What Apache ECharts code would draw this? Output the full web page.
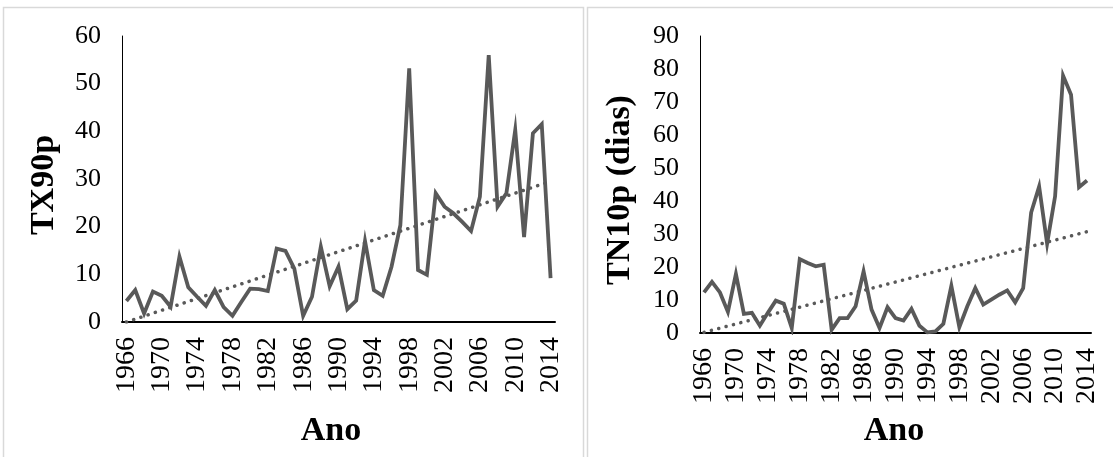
<!DOCTYPE html>
<html>
<head>
<meta charset="utf-8">
<script src="https://cdn.jsdelivr.net/npm/echarts@6/dist/echarts.min.js"></script>
<style>
html,body{margin:0;padding:0;background:#fff;}
#chart{width:1113px;height:457px;}
</style>
</head>
<body>
<div id="chart"></div>
<script>
const years = ['1966','1967','1968','1969','1970','1971','1972','1973','1974','1975','1976','1977','1978','1979','1980','1981','1982','1983','1984','1985','1986','1987','1988','1989','1990','1991','1992','1993','1994','1995','1996','1997','1998','1999','2000','2001','2002','2003','2004','2005','2006','2007','2008','2009','2010','2011','2012','2013','2014'];
const tx90p = [4.4,6.7,1.8,6.4,5.5,3.2,13.7,7.3,5.3,3.4,6.7,3.1,1.3,4.2,7.0,6.9,
  6.5,15.4,14.9,11.2,1.3,5.3,15.8,7.5,11.6,2.7,4.5,17.0,6.7,5.5,11.6,20.3,
  53.2,10.9,9.9,27.0,24.2,22.8,21.0,19.1,26.3,56.0,24.2,27.0,40.3,17.8,39.6,41.5,9.2];
const tn10p = [12.3,15.5,12.3,6.4,17.9,5.8,6.1,2.2,6.1,9.8,8.9,1.5,22.4,21.2,20.2,20.7,1.0,4.5,4.5,8.1,18.7,
  7.1,1.5,7.8,4.5,3.8,7.3,2.2,0.2,0.5,2.8,14.3,1.8,8.1,13.6,
  8.6,10.1,11.6,12.9,9.3,13.6,36.5,44.4,27.1,41.4,78.0,72.2,44.2,46.2];
const tx90pTrend = [0, 29.5];   // trend line values at first and last year
const tn10pTrend = [0.2, 30.7];
const leftTicks = {min:0, max:60, interval:10};
const rightTicks = {min:0, max:90, interval:10};
const yTitles = ['TX90p', 'TN10p (dias)'];
const xTitle = 'Ano';

const FONT = "'Liberation Serif', 'Times New Roman', serif";
const LINE = '#595959';
const TITLE_FONT = 'bold 34px ' + FONT;

function trendData(ends){
  return years.map((y,i)=> i===0 ? ends[0] : (i===years.length-1 ? ends[1] : null));
}

function xAxis(idx){
  return {
    type:'category', gridIndex:idx, data:years, boundaryGap:true,
    axisLine:{lineStyle:{color:'#000', width:2}},
    axisTick:{show:false},
    axisLabel:{interval:3, rotate:90, fontFamily:FONT, fontSize:28, color:'#000', margin:15},
    splitLine:{show:false}
  };
}
function yAxis(idx, t){
  return {
    type:'value', gridIndex:idx, min:t.min, max:t.max, interval:t.interval,
    axisLine:{show:true, lineStyle:{color:'#000', width:1}},
    axisTick:{show:false},
    axisLabel:{fontFamily:FONT, fontSize:26, color:'#000', margin:21},
    splitLine:{show:false}
  };
}
function mainSeries(idx, data){
  return {type:'line', xAxisIndex:idx, yAxisIndex:idx, data:data, symbol:'none',
    lineStyle:{color:LINE, width:3.8, join:'miter'}, z:3, animation:false};
}
function trendSeries(idx, ends){
  return {type:'line', xAxisIndex:idx, yAxisIndex:idx, data:trendData(ends), connectNulls:true, symbol:'none',
    lineStyle:{color:LINE, width:3.5, type:[0.1,7.5], cap:'round'}, z:2, animation:false};
}
function titleText(txt, x, y, rot){
  return {type:'text', x:x, y:y, rotation:rot, silent:true,
    style:{text:txt, font:TITLE_FONT, fill:'#000', align:'center', verticalAlign:'middle'}};
}

const chart = echarts.init(document.getElementById('chart'), null, {renderer:'canvas'});
chart.setOption({
  animation:false,
  backgroundColor:'#fff',
  graphic:[
    {type:'rect', shape:{x:3.5, y:7.5, width:580, height:460}, style:{fill:'none', stroke:'#d9d9d9', lineWidth:1.5}, silent:true},
    {type:'rect', shape:{x:587.5, y:7.5, width:540, height:460}, style:{fill:'none', stroke:'#d9d9d9', lineWidth:1.5}, silent:true},
    titleText(yTitles[0], 44, 185, Math.PI/2),
    titleText(yTitles[1], 620, 190, Math.PI/2),
    titleText(xTitle, 331, 431, 0),
    titleText(xTitle, 894, 431, 0)
  ],
  grid:[
    {left:122, top:36, width:433, height:286},
    {left:700, top:36, width:391, height:297}
  ],
  xAxis:[xAxis(0), xAxis(1)],
  yAxis:[yAxis(0,leftTicks), yAxis(1,rightTicks)],
  series:[
    trendSeries(0, tx90pTrend), mainSeries(0, tx90p),
    trendSeries(1, tn10pTrend), mainSeries(1, tn10p)
  ]
});
</script>
</body>
</html>
